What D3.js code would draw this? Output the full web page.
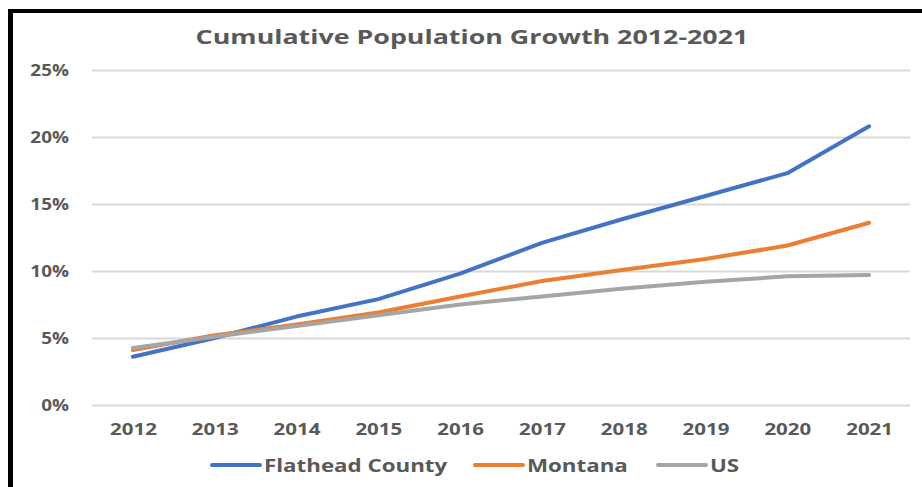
<!DOCTYPE html>
<html><head><meta charset="utf-8">
<script src="https://cdn.jsdelivr.net/npm/d3@7/dist/d3.min.js"></script>
<style>body{margin:0;background:#fff}svg{display:block}</style>
</head><body>
<svg id="c" width="922" height="487"></svg>
<script>
const years = ["2012","2013","2014","2015","2016","2017","2018","2019","2020","2021"];
const flathead = [3.6, 5.0, 6.6, 7.9, 9.8, 12.1, 13.9, 15.6, 17.3, 20.8];
const montana = [4.1, 5.2, 6.0, 6.9, 8.1, 9.25, 10.1, 10.9, 11.9, 13.6];
const us = [4.25, 5.1, 5.9, 6.7, 7.5, 8.1, 8.7, 9.2, 9.6, 9.7];
const seriesNames = ["Flathead County","Montana","US"];
const seriesColors = ["#4472C4","#ED7D31","#A5A5A5"];
const yTicks = [0,5,10,15,20,25];
const title = "Cumulative Population Growth 2012-2021";

const series = [flathead, montana, us];
const svg = d3.select("#c");
const FONT = "'Open Sans', sans-serif";
const textCol = "#595959";

const x = d3.scalePoint().domain(years).range([92, 910]).padding(0.5);
const y = d3.scaleLinear().domain([0, 25]).range([405, 70]);

function stretch(f){
  return sel => sel.each(function(){
    const w = this.getComputedTextLength();
    this.setAttribute("textLength", w*f);
    this.setAttribute("lengthAdjust","spacingAndGlyphs");
  });
}

// border
svg.append("line").attr("x1",10.5).attr("x2",10.5).attr("y1",9).attr("y2",487).attr("stroke","#000").attr("stroke-width",5);
svg.append("line").attr("x1",8).attr("x2",922).attr("y1",11).attr("y2",11).attr("stroke","#000").attr("stroke-width",4);

// title
svg.append("text").attr("x",472).attr("y",44).attr("text-anchor","middle")
  .attr("font-family",FONT).attr("font-weight","bold").attr("font-size",20).attr("fill",textCol)
  .text(title).call(stretch(1.34));

// y grid + labels
const yAxis = d3.axisLeft(y).tickValues(yTicks).tickSize(-(910-92)).tickFormat(d=>d+"%").tickPadding(23);
const gy = svg.append("g").attr("transform","translate(92,0)").call(yAxis);
gy.select(".domain").remove();
gy.selectAll(".tick line").attr("stroke","#D9D9D9").attr("stroke-width",2);
gy.selectAll(".tick text").attr("font-family",FONT).attr("font-weight","bold").attr("font-size",15.5).attr("fill",textCol).attr("dy","0.35em").call(stretch(1.22));

// x labels
const xAxis = d3.axisBottom(x).tickSize(0).tickPadding(0);
const gx = svg.append("g").attr("transform","translate(0,405)").call(xAxis);
gx.select(".domain").remove();
gx.selectAll(".tick text").attr("font-family",FONT).attr("font-weight","bold").attr("font-size",16).attr("fill",textCol).attr("dy",0).attr("y",30).call(stretch(1.28));

// lines
const line = d3.line().x((d,i)=>x(years[i])).y(d=>y(d));
series.forEach((s,i)=>{
  svg.append("path").datum(s).attr("d",line).attr("fill","none")
    .attr("stroke",seriesColors[i]).attr("stroke-width",4).attr("stroke-linecap","round").attr("stroke-linejoin","round");
});
// legend
const legX = [212, 475, 658];
seriesNames.forEach((n,i)=>{
  const g = svg.append("g");
  g.append("line").attr("x1",legX[i]).attr("x2",legX[i]+48).attr("y1",465).attr("y2",465)
    .attr("stroke",seriesColors[i]).attr("stroke-width",4).attr("stroke-linecap","round");
  g.append("text").attr("x",legX[i]+52).attr("y",472).attr("font-family",FONT).attr("font-weight","bold")
    .attr("font-size",18).attr("fill",textCol).text(n).call(stretch(1.24));
});
</script>
</body></html>
